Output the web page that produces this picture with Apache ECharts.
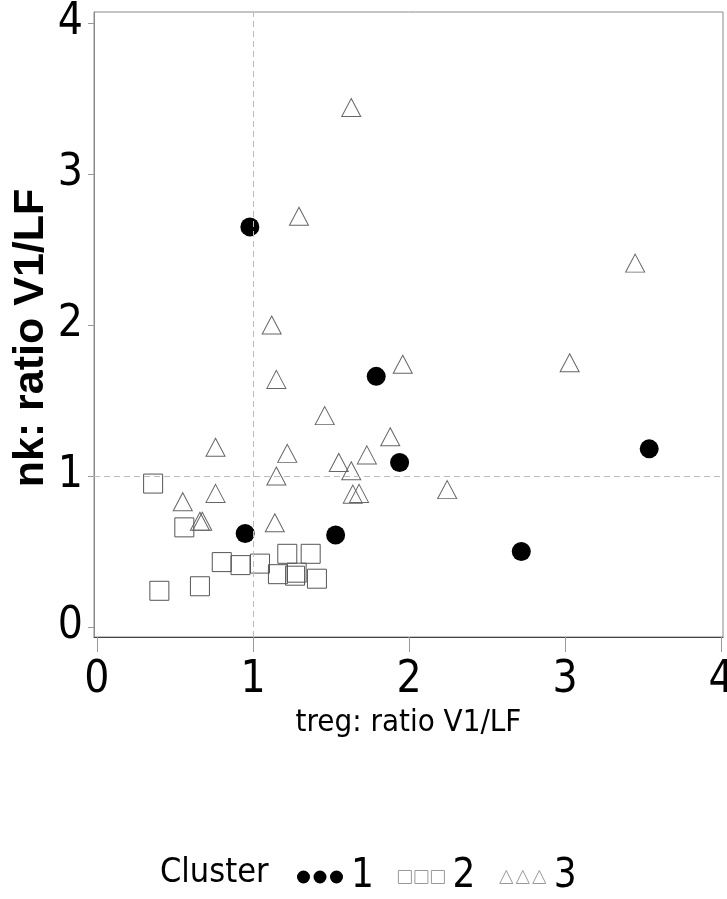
<!DOCTYPE html>
<html>
<head>
<meta charset="utf-8">
<script src="https://cdn.jsdelivr.net/npm/echarts@6/dist/echarts.min.js"></script>
<style>
html,body{margin:0;padding:0;background:#fff;}
#chart{width:727px;height:899px;}
</style>
</head>
<body>
<div id="chart"></div>
<script>
var tickValues = [0, 1, 2, 3, 4];
var clusterNames = ['1', '2', '3'];

var cluster1X = [0.98, 0.95, 1.53, 1.79, 1.94, 2.72, 3.54];
var cluster1Y = [2.65, 0.62, 0.61, 1.66, 1.09, 0.50, 1.18];

var cluster2X = [0.36, 0.56, 0.40, 0.66, 0.80, 0.92, 1.045, 1.22, 1.37, 1.16, 1.28, 1.27, 1.41];
var cluster2Y = [0.95, 0.66, 0.24, 0.27, 0.43, 0.41, 0.42, 0.485, 0.485, 0.35, 0.36, 0.34, 0.32];

var cluster3X = [1.63, 1.295, 1.12, 1.15, 1.46, 1.96, 3.03, 3.45, 0.76, 1.22, 1.73, 1.88, 1.55, 1.15, 0.76, 0.55, 0.66, 0.675, 1.14, 1.63, 1.64, 1.68, 2.245];
var cluster3Y = [3.44, 2.72, 2.00, 1.64, 1.40, 1.74, 1.75, 2.41, 1.19, 1.15, 1.14, 1.26, 1.09, 1.00, 0.885, 0.83, 0.70, 0.70, 0.69, 1.035, 0.88, 0.885, 0.91];

var refX = 1;
var refY = 1;

var xTitle = 'treg: ratio V1/LF';
var yTitle = 'nk: ratio V1/LF';
var legendTitle = 'Cluster';

function pairs(xs, ys) {
  return xs.map(function (x, i) { return [x, ys[i]]; });
}

var narrow = "'Liberation Sans Narrow', 'Arial Narrow', 'DejaVu Sans Condensed', sans-serif";

var circlesIcon = 'path://M0,6.5a6.5,6.5 0 1,0 13,0a6.5,6.5 0 1,0 -13,0M16.5,6.5a6.5,6.5 0 1,0 13,0a6.5,6.5 0 1,0 -13,0M33,6.5a6.5,6.5 0 1,0 13,0a6.5,6.5 0 1,0 -13,0';
var squaresIcon = 'path://M0,0L13,0L13,13L0,13ZM16.5,0L29.5,0L29.5,13L16.5,13ZM33,0L46,0L46,13L33,13Z';
var trianglesIcon = 'path://M6.5,0L13,13L0,13ZM23,0L29.5,13L16.5,13ZM39.5,0L46,13L33,13Z';

var chart = echarts.init(document.getElementById('chart'), null, {renderer: 'canvas'});

chart.setOption({
  animation: false,
  backgroundColor: '#fff',
  title: {
    text: legendTitle,
    left: 155,
    top: 851,
    textStyle: {fontFamily: narrow, fontSize: 34, fontWeight: 'normal', color: '#000'}
  },
  legend: {
    left: 292,
    top: 852,
    itemWidth: 46,
    itemHeight: 13,
    itemGap: 24,
    textStyle: {fontFamily: narrow, fontSize: 40, color: '#000', padding: [0, 0, 0, 3]},
    data: [
      {name: clusterNames[0], icon: circlesIcon},
      {name: clusterNames[1], icon: squaresIcon, itemStyle: {borderColor: '#999', borderWidth: 1}},
      {name: clusterNames[2], icon: trianglesIcon, itemStyle: {borderColor: '#999', borderWidth: 1}}
    ]
  },
  graphic: [{
    type: 'text',
    x: 31,
    y: 338,
    rotation: Math.PI / 2,
    style: {
      text: yTitle,
      fontFamily: "'Liberation Sans', Arial, sans-serif",
      fontSize: 43,
      fontWeight: 'bold',
      fill: '#000',
      align: 'center',
      verticalAlign: 'middle'
    }
  }],
  grid: {
    left: 94, right: 4, top: 12, bottom: 262,
    show: true, borderColor: '#8a8a8a', borderWidth: 1,
    containLabel: false,
    outerBoundsMode: 'none'
  },
  xAxis: {
    type: 'value',
    min: -0.019, max: 4.013,
    name: xTitle,
    nameLocation: 'middle',
    nameGap: 56,
    nameTextStyle: {fontFamily: narrow, fontSize: 31, color: '#000'},
    axisLine: {show: true, onZero: false, lineStyle: {color: '#444', width: 1}},
    axisTick: {show: true, length: 15, customValues: tickValues, lineStyle: {color: '#999'}},
    axisLabel: {customValues: tickValues, margin: 22, fontFamily: narrow, fontSize: 44, color: '#000', hideOverlap: false},
    splitLine: {show: false}
  },
  yAxis: {
    type: 'value',
    min: -0.066, max: 4.073,
    axisLine: {show: true, onZero: false, lineStyle: {color: '#8a8a8a', width: 1}},
    axisTick: {show: true, length: 6, customValues: tickValues, lineStyle: {color: '#999'}},
    axisLabel: {customValues: tickValues, margin: 11, fontFamily: narrow, fontSize: 44, color: '#000', hideOverlap: false},
    splitLine: {show: false}
  },
  series: [
    {
      name: clusterNames[0],
      type: 'scatter',
      symbol: 'circle',
      symbolSize: 19,
      itemStyle: {color: '#000', opacity: 1},
      data: pairs(cluster1X, cluster1Y),
      z: 3,
      markLine: {
        silent: true,
        symbol: 'none',
        label: {show: false},
        lineStyle: {type: [6, 4], color: '#bbb', width: 1},
        data: [{xAxis: refX}, {yAxis: refY}]
      }
    },
    {
      name: clusterNames[1],
      type: 'scatter',
      symbol: 'rect',
      symbolSize: 19,
      itemStyle: {color: 'rgba(255,255,255,0)', borderColor: '#555', borderWidth: 1, opacity: 1},
      data: pairs(cluster2X, cluster2Y),
      z: 2
    },
    {
      name: clusterNames[2],
      type: 'scatter',
      symbol: 'triangle',
      symbolSize: [19, 18],
      itemStyle: {color: 'rgba(255,255,255,0)', borderColor: '#666', borderWidth: 1, opacity: 1},
      data: pairs(cluster3X, cluster3Y),
      z: 2
    }
  ]
});
</script>
</body>
</html>
